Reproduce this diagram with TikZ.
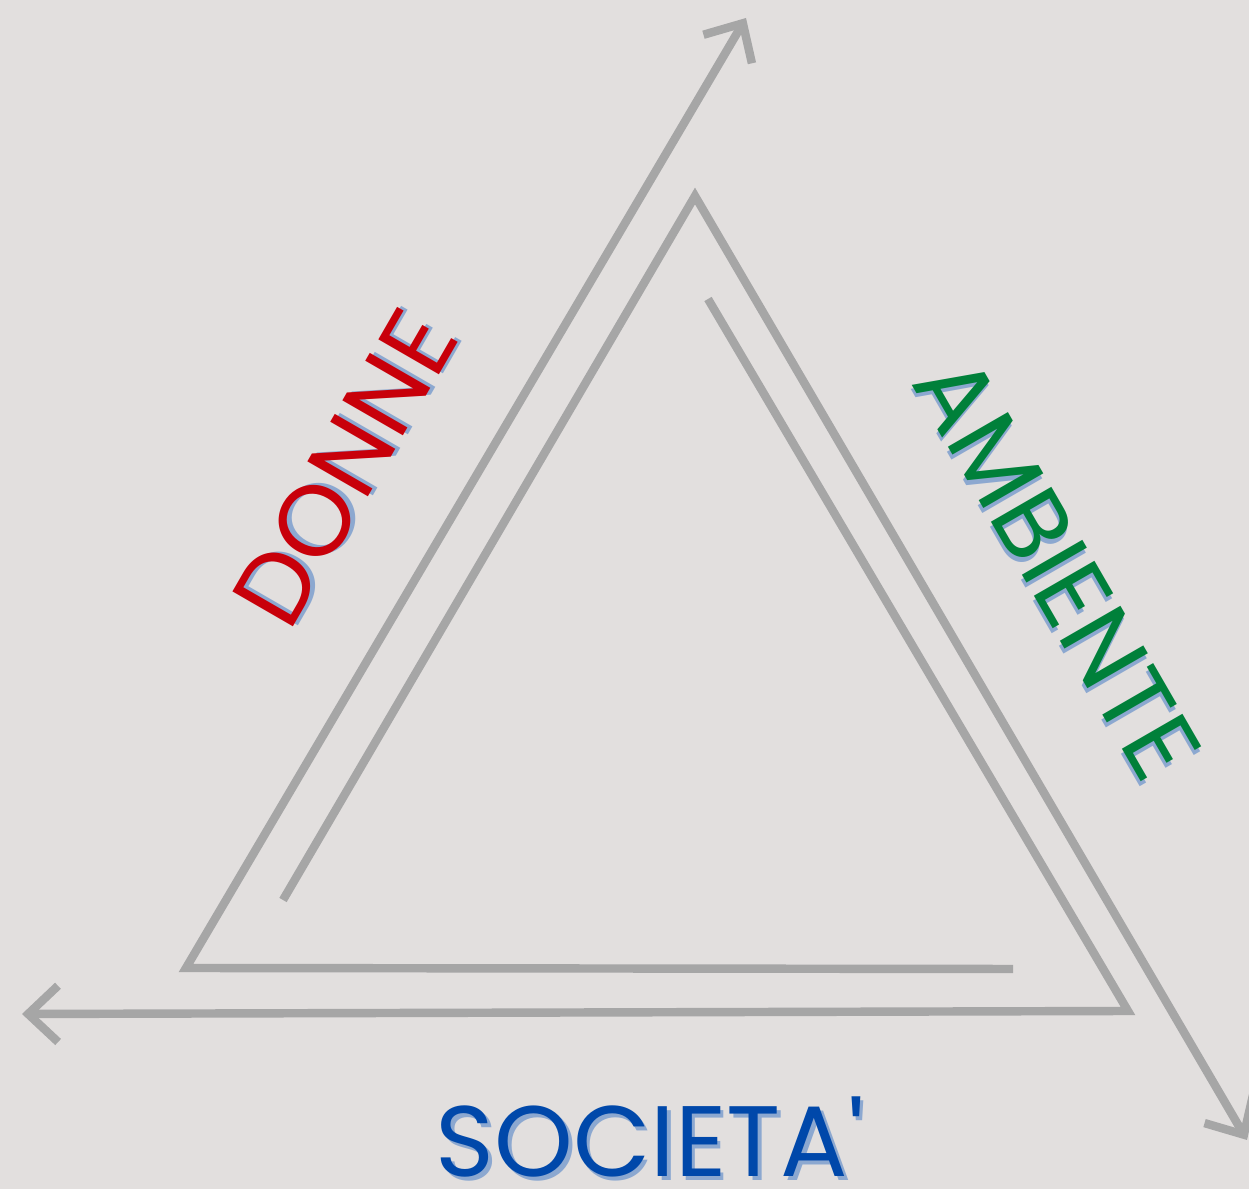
\documentclass[tikz,border=0pt]{standalone}
\usepackage{fontspec}
\usepackage{tikz}
\usetikzlibrary{calc,arrows.meta,positioning}
\usepackage{xcolor}
\definecolor{bgColor}{RGB}{226,223,222}
\definecolor{lineColor}{RGB}{166,166,166}
\definecolor{donneColor}{RGB}{200,0,10}
\definecolor{ambienteColor}{RGB}{0,128,58}
\definecolor{societaColor}{RGB}{0,72,170}
\definecolor{shadowColor}{RGB}{140,168,208}
\newfontfamily\labelfamily{Poppins}
\newcommand{\diagfont}{\labelfamily\fontsize{28.5}{30}\selectfont}

\begin{document}
\begin{tikzpicture}[
        side/.style={line width=2.4pt, lineColor, line join=miter},
        arr/.style={side, -{Straight Barb[length=8.5pt, width=16pt, line join=miter, line cap=butt]}},
        lbl/.style={inner sep=0pt, font=\diagfont},
        shade/.style={lbl, text=shadowColor}
      ]
      \fill[bgColor] (0,0) rectangle (12.49,11.89);
      \useasboundingbox (0,0) rectangle (12.49,11.89);

      % corners of the three arms
      \coordinate (aStart) at (10.13,2.20);
      \coordinate (aCorner) at (1.86,2.21);
      \coordinate (aTip) at (7.46,11.71);
      \coordinate (bStart) at (2.83,2.89);
      \coordinate (bCorner) at (6.95,9.93);
      \coordinate (bTip) at (12.47,0.49);
      \coordinate (cStart) at (7.08,8.90);
      \coordinate (cCorner) at (11.28,1.78);
      \coordinate (cTip) at (0.22,1.75);

      \draw[arr] (aStart) -- (aCorner) -- (aTip);
      \draw[arr] (bStart) -- (bCorner) -- (bTip);
      \draw[arr] (cStart) -- (cCorner) -- (cTip);

      % labels with a soft shadow
      \begin{scope}[shift={(3.45,7.21)}, rotate=60]
        \node[shade, rotate=60] (donneShadow) at (0.035,-0.035) {DONNE};
        \node[lbl, rotate=60, text=donneColor] (donne) at (0,0) {DONNE};
      \end{scope}
      \begin{scope}[shift={(10.58,6.22)}, rotate=-60]
        \node[shade, rotate=-60] (ambienteShadow) at (0.035,-0.035) {AMBIENTE};
        \node[lbl, rotate=-60, text=ambienteColor] (ambiente) at (0,0) {AMBIENTE};
      \end{scope}
      \node[shade] (societaShadow) at (6.535,0.485) {SOCIETA'};
      \node[lbl, text=societaColor] (societa) at (6.50,0.52) {SOCIETA'};
    \end{tikzpicture}
\end{document}
